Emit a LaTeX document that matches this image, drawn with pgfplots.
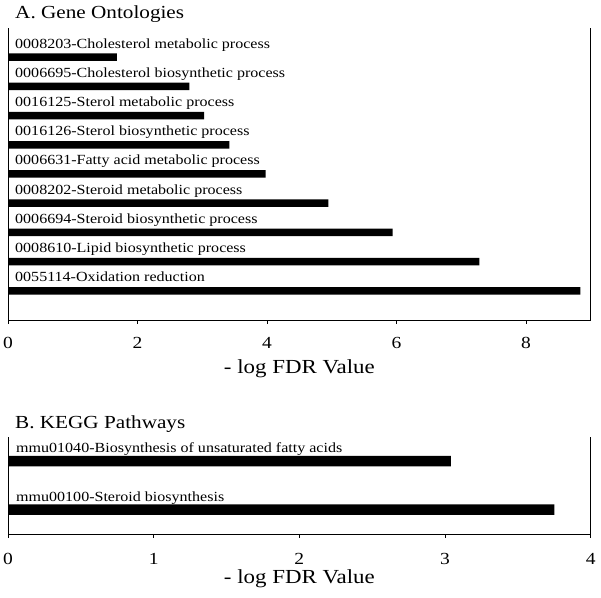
\documentclass[border=0pt]{standalone}
\usepackage{pgfplots}
\pgfplotsset{compat=1.18}
\usepackage{fontspec}
\setmainfont[FakeStretch=1.15]{Liberation Serif}
\newcommand{\lab}{\fontsize{14}{16}\selectfont}
\newcommand{\ttl}{\fontsize{18.5}{20}\selectfont}
\pgfplotsset{
  panel/.style={
    scale only axis,
    clip=false,
    axis x line*=bottom,
    axis line style={line width=0.8bp, black},
    xmin=0,
    ytick=\empty,
    tick align=outside,
    major tick length=4bp,
    tick style={line width=0.8bp, black},
    xtick pos=bottom,
    /pgf/number format/assume math mode=true,
    xticklabel style={font=\fontsize{17}{19}\selectfont},
    xlabel={- log FDR Value},
    xlabel style={font=\fontsize{20}{22}\selectfont, at={(axis description cs:0.5,0)}, anchor=center},
  }
}
\begin{document}
\begin{tikzpicture}
\useasboundingbox (0bp,0bp) rectangle (601bp,598bp);
% Panel A
\begin{axis}[panel,
  at={(8bp,278bp)}, anchor=south west,
  width=582.7bp, height=292bp,
  xmax=9, ymin=0, ymax=10,
  xtick={0,2,4,6,8},
  xticklabel style={yshift=-10bp},
  xlabel style={yshift=-49bp},
]
\addplot[xbar, fill=black, draw=none, bar width=7.5bp] coordinates {
  (8.84,1) (7.28,2) (5.94,3) (4.95,4) (3.98,5) (3.42,6) (3.03,7) (2.80,8) (1.68,9)};
\node[anchor=base west, inner sep=0, xshift=7bp, yshift=9bp, font=\lab] at (axis cs:0,9) {0008203-Cholesterol metabolic process};
\node[anchor=base west, inner sep=0, xshift=7bp, yshift=9bp, font=\lab] at (axis cs:0,8) {0006695-Cholesterol biosynthetic process};
\node[anchor=base west, inner sep=0, xshift=7bp, yshift=9bp, font=\lab] at (axis cs:0,7) {0016125-Sterol metabolic process};
\node[anchor=base west, inner sep=0, xshift=7bp, yshift=9bp, font=\lab] at (axis cs:0,6) {0016126-Sterol biosynthetic process};
\node[anchor=base west, inner sep=0, xshift=7bp, yshift=9bp, font=\lab] at (axis cs:0,5) {0006631-Fatty acid metabolic process};
\node[anchor=base west, inner sep=0, xshift=7bp, yshift=9bp, font=\lab] at (axis cs:0,4) {0008202-Steroid metabolic process};
\node[anchor=base west, inner sep=0, xshift=7bp, yshift=9bp, font=\lab] at (axis cs:0,3) {0006694-Steroid biosynthetic process};
\node[anchor=base west, inner sep=0, xshift=7bp, yshift=9bp, font=\lab] at (axis cs:0,2) {0008610-Lipid biosynthetic process};
\node[anchor=base west, inner sep=0, xshift=7bp, yshift=9bp, font=\lab] at (axis cs:0,1) {0055114-Oxidation reduction};
\end{axis}
% Panel B
\begin{axis}[panel,
  at={(8bp,64bp)}, anchor=south west,
  width=582.7bp, height=97bp,
  xmax=4, ymin=0.5, ymax=2.5,
  xtick={0,1,2,3,4},
  xticklabel style={yshift=-12bp},
  xlabel style={yshift=-45bp},
]
\addplot[xbar, fill=black, draw=none, bar width=10.5bp] coordinates {
  (3.75,1) (3.04,2)};
\node[anchor=base west, inner sep=0, xshift=8bp, yshift=8.4bp, font=\lab] at (axis cs:0,2) {mmu01040-Biosynthesis of unsaturated fatty acids};
\node[anchor=base west, inner sep=0, xshift=8bp, yshift=8.4bp, font=\lab] at (axis cs:0,1) {mmu00100-Steroid biosynthesis};
\end{axis}
\node[anchor=base west, inner sep=0, font=\ttl] at (15bp,579bp) {A. Gene Ontologies};
\node[anchor=base west, inner sep=0, font=\ttl] at (15bp,169bp) {B. KEGG Pathways};
\end{tikzpicture}
\end{document}
